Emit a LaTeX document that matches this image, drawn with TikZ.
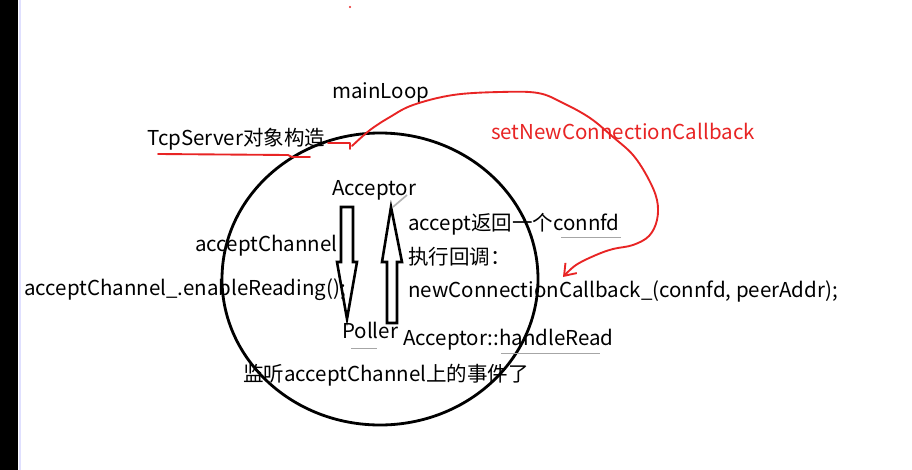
\documentclass[tikz,border=0pt]{standalone}
\usepackage{fontspec}
\setmainfont{Noto Sans CJK SC}
\usetikzlibrary{arrows.meta}

\definecolor{penred}{RGB}{232,36,36}

\tikzset{
  txt/.style={anchor=base west, inner sep=0pt, font=\fontsize{17.5pt}{19pt}\selectfont},
  redtxt/.style={txt, text=penred},
  hollow/.style={draw=black, line width=2.2pt, fill=white, line join=miter},
  redline/.style={draw=penred, line width=1.6pt, line cap=round, line join=round},
  greyline/.style={draw=gray!70, line width=0.8pt},
}

\begin{document}
\begin{tikzpicture}[x=0.03cm, y=-0.03cm]

		\useasboundingbox (0,0) rectangle (912,470);
		\fill[white] (0,0) rectangle (912,470);

		% Borde izquierdo de la ventana
		\fill[black] (0,0) rectangle (18,470);
		\draw[blue!12, line width=2pt] (20,0) -- (20,470);
		\fill[penred] (350,7) circle (1.2);

		% Circulo del bucle
		\draw[line width=2.4pt] (380,279) ellipse (158 and 146);

		% Flechas huecas entre Acceptor y Poller
		\draw[hollow] (341,207) -- (353,207) -- (353,262) -- (357,262) -- (347,319) -- (337,262) -- (341,262) -- cycle; % hacia Poller
		\draw[hollow] (387,323) -- (397,323) -- (397,262) -- (402,262) -- (391,207) -- (382,262) -- (387,262) -- cycle; % hacia Acceptor
		\draw[gray!60, line width=1.4pt] (407,195) -- (393,207);

		% Etiquetas
		\node[txt] (mainloop) at (332,98) {mainLoop};
		\node[txt] (tcp) at (147,145) {TcpServer对象构造};
		\node[redtxt] (setcb) at (491,139) {setNewConnectionCallback};
		\node[txt] (acceptor) at (332,195) {Acceptor};
		\node[txt] (chan) at (195,251) {acceptChannel};
		\node[txt] (enable) at (24,295) {acceptChannel\_.enableReading();};
		\node[txt] (poller) at (342,338) {Poller};
		\node[txt] (listen) at (243,381) {监听acceptChannel上的事件了};
		\node[txt] (retfd) at (408,230) {accept返回一个connfd};
		\node[txt] (exec) at (408,264) {执行回调：};
		\node[txt] (newcb) at (408,297) {newConnectionCallback\_(connfd, peerAddr);};
		\node[txt] (handle) at (403,345) {Acceptor::handleRead};

		% Subrayados grises
		\draw[greyline] (351,348) -- (377,348);
		\draw[greyline] (561,237) -- (621,237);
		\draw[greyline] (501,353) -- (600,353);

		% Trazo rojo: TcpServer -> newConnectionCallback_
		\coordinate (tcpend) at (328,143);
		\coordinate (arcstart) at (352,146);
		\coordinate (cbtip) at (563,277);
		\draw[redline] (158,154) -- (288,155) -- (292,157) -- (310,157);
		\draw[redline] (tcpend) -- (350,143) -- (350,149);
		\draw[redline, -{Straight Barb[length=9pt, width=13pt]}] plot[smooth, tension=0.6] coordinates {(arcstart) (370,130) (390,117) (413,105) (453,95) (500,92) (538,93) (563,103) (590,118) (613,137) (633,155) (648,178) (657,200) (657,220) (649,236) (633,245) (613,249) (596,255) (576,265) (cbtip)};

	\end{tikzpicture}
\end{document}
